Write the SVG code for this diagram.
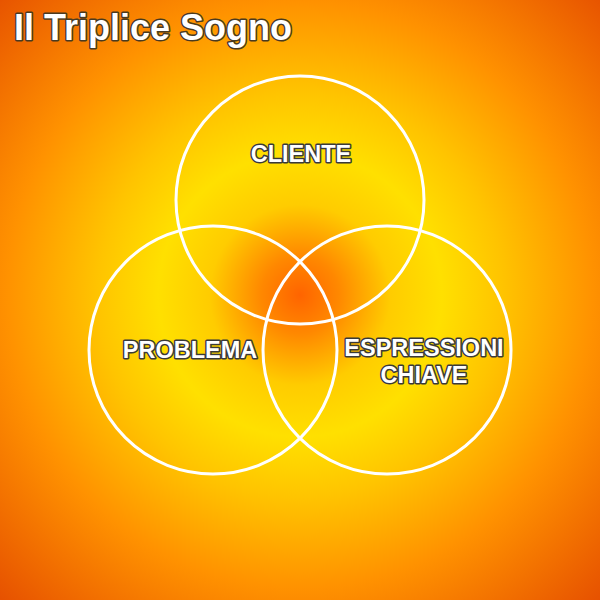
<svg xmlns="http://www.w3.org/2000/svg" width="600" height="600" viewBox="0 0 600 600">
  <defs>
    <radialGradient id="bg" gradientUnits="userSpaceOnUse" cx="300" cy="295" r="430">
      <stop offset="0" stop-color="#FF6400"/>
      <stop offset="0.09" stop-color="#FF8800"/>
      <stop offset="0.21" stop-color="#FFCC00"/>
      <stop offset="0.33" stop-color="#FFE000"/>
      <stop offset="0.47" stop-color="#FFC400"/>
      <stop offset="0.68" stop-color="#FF9200"/>
      <stop offset="1" stop-color="#E65000"/>
    </radialGradient>
  </defs>
  <style>
    .ring { fill: none; stroke: #FFFFFF; stroke-width: 3; }
    .lbl { font-family: "Liberation Sans", Arial, sans-serif; font-weight: bold; font-size: 23.5px; fill: #FFFFFF; stroke: #3A3A3A; stroke-width: 3; paint-order: stroke; stroke-linejoin: round; text-anchor: middle; }
    .title { font-family: "Liberation Sans", Arial, sans-serif; font-weight: bold; font-size: 36px; fill: #FFFFFF; stroke: #4A3A20; stroke-width: 3; paint-order: stroke; stroke-linejoin: round; }
  </style>
  <rect x="0" y="0" width="600" height="600" fill="url(#bg)"/>
  <text class="title" x="14" y="40">Il Triplice Sogno</text>
  <g id="connectors"/>
  <g id="cliente">
    <circle class="ring" cx="300" cy="200" r="124"/>
    <text class="lbl" x="301" y="162">CLIENTE</text>
  </g>
  <g id="problema">
    <circle class="ring" cx="213" cy="350" r="124"/>
    <text class="lbl" x="190" y="358">PROBLEMA</text>
  </g>
  <g id="espressioni">
    <circle class="ring" cx="387" cy="350" r="124"/>
    <text class="lbl" x="424" y="356">ESPRESSIONI</text>
    <text class="lbl" x="424" y="383">CHIAVE</text>
  </g>
</svg>
